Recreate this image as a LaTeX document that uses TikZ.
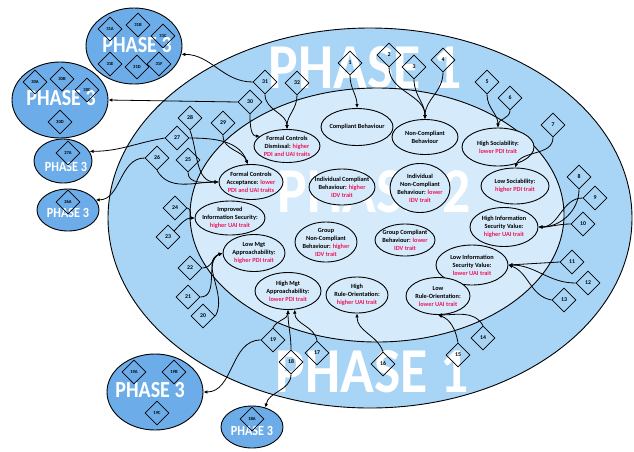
\documentclass[tikz,border=0pt]{standalone}
\usepackage{fontspec}
\setmainfont{Carlito}
\usetikzlibrary{shapes.geometric,arrows.meta,positioning}
\definecolor{outerblue}{RGB}{168,213,246}
\definecolor{innerblue}{RGB}{213,235,251}
\definecolor{groupblue}{RGB}{108,173,233}
\definecolor{traitred}{RGB}{238,24,92}
\newcommand{\trait}[1]{\textcolor{traitred}{#1}}
\newcommand{\narrow}[1]{\scalebox{0.87}[1]{#1}}

\begin{document}
\begin{tikzpicture}[x=1pt,y=1pt,
  num/.style={diamond, draw, line width=0.8pt, inner sep=0pt, minimum size=24pt,
    font=\fontsize{5.8}{6}\selectfont\bfseries},
  subnum/.style={num, font=\fontsize{4.6}{5}\selectfont\bfseries},
  concept/.style={ellipse, draw, line width=0.9pt, fill=innerblue, inner sep=0pt},
  ctext/.style={align=center, font=\fontsize{6.3}{8}\selectfont\bfseries},
  group/.style={ellipse, draw, line width=0.9pt, fill=groupblue, inner sep=0pt},
  phasetext/.style={text=white, font=\fontsize{64}{64}\selectfont\bfseries, anchor=base},
  grptext/.style={text=white, font=\fontsize{23}{23}\selectfont\bfseries},
  smallgrptext/.style={text=white, font=\fontsize{14}{14}\selectfont\bfseries},
  arr/.style={-{Latex[length=4pt,width=3.6pt]}, line width=0.8pt}]
  \useasboundingbox (0,0) rectangle (634,-451);
  % Phase 1
  \draw[line width=0.9pt, fill=outerblue] (370,-218) ellipse [x radius=262, y radius=190];
  \node[phasetext] (ph1top) at (365,-88) {\narrow{PHASE 1}};
  \node[phasetext] (ph1bot) at (372,-392) {\narrow{PHASE 1}};
  % Phase 2
  \draw[line width=0.9pt, fill=innerblue] (377,-215) ellipse [x radius=187, y radius=127];
  \node[phasetext] (ph2) at (374,-212) {\narrow{PHASE 2}};
  % Concepts
  \node[concept, minimum width=72, minimum height=37,
    label={[ctext]center:Compliant Behaviour}] (cb) at (357,-127) {};
  \node[concept, minimum width=66, minimum height=35,
    label={[ctext]center:Non-Compliant\\Behaviour}] (ncb) at (425,-137) {};
  \node[concept, minimum width=72, minimum height=38,
    label={[ctext]center:High Sociability:\\\trait{lower PDI trait}}] (hs) at (498,-147) {};
  \node[concept, minimum width=68, minimum height=36,
    label={[ctext]center:Low Sociability:\\\trait{higher PDI trait}}] (ls) at (515,-186) {};
  \node[concept, minimum width=68, minimum height=39,
    label={[ctext]center:High Information\\Security Value:\\\trait{higher UAI trait}}] (hisv) at (504,-227) {};
  \node[concept, minimum width=72, minimum height=40,
    label={[ctext]center:Low Information\\Security Value:\\\trait{lower UAI trait}}] (lisv) at (472,-265) {};
  \node[concept, minimum width=64, minimum height=37,
    label={[ctext]center:Low\\Rule-Orientation:\\\trait{lower UAI trait}}] (lro) at (438,-296) {};
  \node[concept, minimum width=62, minimum height=36,
    label={[ctext]center:High\\Rule-Orientation:\\\trait{higher UAI trait}}] (hro) at (357,-295) {};
  \node[concept, minimum width=66, minimum height=37,
    label={[ctext]center:High Mgt\\Approachability:\\\trait{lower PDI trait}}] (hma) at (288,-291) {};
  \node[concept, minimum width=62, minimum height=37,
    label={[ctext]center:Low Mgt\\Approachability:\\\trait{higher PDI trait}}] (lma) at (254,-253) {};
  \node[concept, minimum width=70, minimum height=34,
    label={[ctext]center:Improved\\Information Security:\\\trait{higher UAI trait}}] (iis) at (230,-218) {};
  \node[concept, minimum width=64, minimum height=35,
    label={[ctext]center:Formal Controls\\Acceptance: \trait{lower}\\\trait{PDI and UAI traits}}] (fca) at (251,-182) {};
  \node[concept, minimum width=66, minimum height=33,
    label={[ctext]center:Formal Controls\\Dismissal: \trait{higher}\\\trait{PDI and UAI traits}}] (fcd) at (287,-146) {};
  \node[concept, minimum width=66, minimum height=36,
    label={[ctext]center:Individual Compliant\\Behaviour: \trait{higher}\\\trait{IDV trait}}] (icb) at (342,-187) {};
  \node[concept, minimum width=60, minimum height=49,
    label={[ctext]center:Individual\\Non-Compliant\\Behaviour: \trait{lower}\\\trait{IDV trait}}] (incb) at (420,-188) {};
  \node[concept, minimum width=62, minimum height=40,
    label={[ctext]center:Group\\Non-Compliant\\Behaviour: \trait{higher}\\\trait{IDV trait}}] (gncb) at (326,-242) {};
  \node[concept, minimum width=60, minimum height=32,
    label={[ctext]center:Group Compliant\\Behaviour: \trait{lower}\\\trait{IDV trait}}] (gcb) at (405,-240) {};
  % Numbered factors
  \node[num] (d1) at (350,-63) {1};
  \node[num] (d2) at (389,-55) {2};
  \node[num] (d3) at (414,-67) {3};
  \node[num] (d4) at (443,-60) {4};
  \node[num] (d5) at (487,-82) {5};
  \node[num] (d6) at (510,-98) {6};
  \node[num] (d7) at (553,-125) {7};
  \node[num] (d8) at (579,-177) {8};
  \node[num] (d9) at (595,-198) {9};
  \node[num] (d10) at (583,-224) {10};
  \node[num] (d11) at (572,-262) {11};
  \node[num] (d12) at (588,-283) {12};
  \node[num] (d13) at (564,-300) {13};
  \node[num] (d14) at (483,-338) {14};
  \node[num] (d15) at (458,-355) {15};
  \node[num] (d16) at (383,-364) {16};
  \node[num] (d17) at (317,-353) {17};
  \node[num] (d18) at (291,-362) {18};
  \node[num] (d19) at (273,-340) {19};
  \node[num] (d20) at (203,-316) {20};
  \node[num] (d21) at (188,-297) {21};
  \node[num] (d22) at (190,-268) {22};
  \node[num] (d23) at (168,-237) {23};
  \node[num] (d24) at (175,-208) {24};
  \node[num] (d25) at (188,-160) {25};
  \node[num] (d26) at (157,-158) {26};
  \node[num] (d27) at (177,-138) {27};
  \node[num] (d28) at (190,-118) {28};
  \node[num] (d29) at (223,-123) {29};
  \node[num] (d30) at (250,-102) {30};
  \node[num] (d31) at (265,-82) {31};
  \node[num] (d32) at (297,-83) {32};
  % Phase 3 groups
  \node[group, minimum width=96, minimum height=76] (g31) at (134,-46) {};
  \node[grptext] (p31) at (137,-45) {\narrow{PHASE 3}};
  \node[subnum] (d31a) at (110,-29) {31A};
  \node[subnum] (d31b) at (138,-25) {31B};
  \node[subnum] (d31c) at (163,-36) {31C};
  \node[subnum] (d31e) at (110,-64) {31E};
  \node[subnum] (d31d) at (137,-67) {31D};
  \node[subnum] (d31f) at (159,-64) {31F};
  \node[group, minimum width=96, minimum height=76] (g30) at (60,-100) {};
  \node[grptext] (p30) at (61,-98) {\narrow{PHASE 3}};
  \node[subnum] (d30a) at (35,-82) {30A};
  \node[subnum] (d30b) at (62,-79) {30B};
  \node[subnum] (d30c) at (87,-90) {30C};
  \node[subnum] (d30d) at (60,-122) {30D};
  \node[group, minimum width=58, minimum height=44] (g27) at (63,-161) {};
  \node[smallgrptext] (p27) at (66,-167) {\narrow{PHASE 3}};
  \node[subnum] (d27a) at (68,-153) {27A};
  \node[group, minimum width=62, minimum height=42] (g26) at (68,-210) {};
  \node[smallgrptext] (p26) at (68,-213) {\narrow{PHASE 3}};
  \node[subnum] (d26a) at (68,-202) {26A};
  \node[group, minimum width=96, minimum height=76] (g19) at (155,-392) {};
  \node[grptext] (p19) at (150,-390) {\narrow{PHASE 3}};
  \node[subnum] (d19a) at (134,-372) {19A};
  \node[subnum] (d19b) at (174,-372) {19B};
  \node[subnum] (d19c) at (157,-413) {19C};
  \node[group, minimum width=62, minimum height=42] (g18) at (252,-427) {};
  \node[smallgrptext] (p18) at (252,-431) {\narrow{PHASE 3}};
  \node[subnum] (d18a) at (252,-419) {18A};
  % Links
  \draw[arr] (d1.south) to[out=-90,in=90] (cb.north);
  \draw[arr] (d2.south) to[out=-90,in=90] (ncb.north);
  \draw[arr] (d3.south) to[out=-90,in=90] (ncb.north);
  \draw[arr] (d4.south) to[out=-90,in=90] (ncb.north);
  \draw[arr] (d5.south) to[out=-90,in=90] (hs.north);
  \draw[arr] (d6.south) to[out=-90,in=90] (hs.north);
  \draw[arr] (d7.south) to[out=-90,in=70] (ls.north);
  \draw[arr] (d8.south) to[out=-90,in=0] (hisv.east);
  \draw[arr] (d9.west) to[out=180,in=0] (hisv.east);
  \draw[arr] (d10.west) to[out=180,in=0] (hisv.east);
  \draw[arr] (d11.west) -- (lisv.east);
  \draw[arr] (d12.west) to[out=180,in=0] (lisv.east);
  \draw[arr] (d13.west) to[out=170,in=-20] (lisv.east);
  \draw[arr] (d14.north) to[out=120,in=0] (lro.south);
  \draw[arr] (d15.north) to[out=100,in=-20] (lro.south);
  \draw[arr] (d16.north) to[out=110,in=-90] (hro.south);
  \draw[arr] (d17.north) to[out=100,in=-90] (hma.-70);
  \draw[arr] (d18.north) to[out=90,in=-90] (hma.south);
  \draw[arr] (d19.north) to[out=60,in=-90] (hma.south);
  \draw[arr] (d19.west) to[out=180,in=0] (g19.east);
  \draw[arr] (d18.south) to[out=-90,in=80] (g18.55);
  \draw[arr] (d20.east) to[out=60,in=200] (lma.west);
  \draw[arr] (d21.east) to[out=0,in=200] (lma.west);
  \draw[arr] (d22.east) to[out=0,in=200] (lma.west);
  \draw[arr] (d23.north east) to[out=45,in=180] (iis.west);
  \draw[arr] (d24.east) to[out=0,in=180] (iis.west);
  \draw[arr] (d25.south) to[out=-90,in=180] (fca.west);
  \draw[arr] (d26.south) to[out=-60,in=180] (fca.west);
  \draw[arr] (d28.south) to[out=-70,in=180] (fca.west);
  \draw[arr] (d27.east) to[out=0,in=110] (fca.100);
  \draw[arr] (d29.south) to[out=-90,in=110] (fca.100);
  \draw[arr] (d26.west) to[out=180,in=0] (g26.20);
  \draw[arr] (d27.west) to[out=190,in=0] (g27.20);
  \draw[arr] (d30.west) -- (g30.east);
  \draw[arr] (d30.south) to[out=-90,in=180] (fcd.160);
  \draw[arr] (d31.south) to[out=-90,in=90] (fcd.north);
  \draw[arr] (d32.south) to[out=-90,in=90] (fcd.north);
  \draw[arr] (d31.west) to[out=180,in=0] (g31.-10);
\end{tikzpicture}
\end{document}
